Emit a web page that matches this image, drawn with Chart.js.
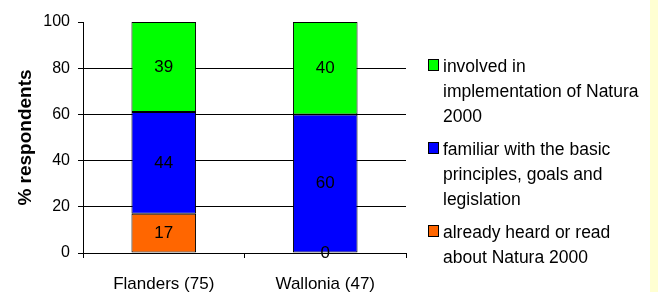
<!DOCTYPE html>
<html>
<head>
<meta charset="utf-8">
<script src="https://cdn.jsdelivr.net/npm/chart.js@4"></script>
<style>
  html, body { margin: 0; padding: 0; background: #fff; }
  #wrap { position: relative; width: 658px; height: 292px; }
  #strip { position: absolute; left: 650px; top: 0; width: 8px; height: 292px; background: #ffffd2; }
</style>
</head>
<body>
<div id="wrap">
  <canvas id="chart" width="658" height="292"></canvas>
  <div id="strip"></div>
</div>
<script>
// Datos del grafico
const categories = ['Flanders (75)', 'Wallonia (47)'];
const heardValues = [17, 0];
const familiarValues = [44, 60];
const involvedValues = [39, 40];
const seriesLabels = [
    ['already heard or read', 'about Natura 2000'],
    ['familiar with the basic', 'principles, goals and', 'legislation'],
    ['involved in', 'implementation of Natura', '2000']
];
const seriesColors = ['#ff6600', '#0000ff', '#00ff00'];
const yTicks = [0, 20, 40, 60, 80, 100];

const FONT = 'Arial, "Liberation Sans", sans-serif';

// Etiquetas de valor dentro de cada segmento
const valueLabels = {
    id: 'valueLabels',
    afterDatasetsDraw(chart) {
        const ctx = chart.ctx;
        ctx.save();
        ctx.font = '17px ' + FONT;
        ctx.fillStyle = '#000';
        ctx.textAlign = 'center';
        ctx.textBaseline = 'middle';
        chart.data.datasets.forEach((ds, i) => {
            chart.getDatasetMeta(i).data.forEach((bar, j) => {
                ctx.fillText(String(ds.data[j]), bar.x, (bar.y + bar.base) / 2);
            });
        });
        ctx.restore();
    }
};

// Leyenda dibujada a mano (texto en varias lineas)
const sideLegend = {
    id: 'sideLegend',
    afterDraw(chart) {
        const ctx = chart.ctx;
        const boxX = chart.chartArea.right + 22;
        const textX = boxX + 15;
        let baseline = chart.chartArea.top + 50;
        ctx.save();
        ctx.font = '17.5px ' + FONT;
        ctx.textBaseline = 'alphabetic';
        ctx.textAlign = 'left';
        for (let i = chart.data.datasets.length - 1; i >= 0; i--) {
            const ds = chart.data.datasets[i];
            ctx.fillStyle = ds.backgroundColor;
            ctx.fillRect(boxX, baseline - 13, 10, 11);
            ctx.strokeStyle = '#000';
            ctx.lineWidth = 1;
            ctx.strokeRect(boxX + 0.5, baseline - 12.5, 10, 11);
            ctx.fillStyle = '#000';
            ds.legendLines.forEach((line, k) => {
                ctx.fillText(line, textX, baseline + k * 25);
            });
            baseline += ds.legendLines.length * 25 + 8;
        }
        ctx.restore();
    }
};

const datasets = [heardValues, familiarValues, involvedValues].map((values, i) => ({
    label: seriesLabels[i].join(' '),
    legendLines: seriesLabels[i],
    data: values,
    backgroundColor: seriesColors[i],
    borderColor: '#000',
    borderWidth: 1,
    borderSkipped: false,
    categoryPercentage: 1,
    barPercentage: 0.4
}));

new Chart(document.getElementById('chart'), {
    type: 'bar',
    data: { labels: categories, datasets: datasets },
    options: {
        responsive: false,
        animation: false,
        layout: { padding: { left: 0, top: 22, right: 252, bottom: 0 } },
        plugins: {
            legend: { display: false },
            tooltip: { enabled: false }
        },
        scales: {
            x: {
                stacked: true,
                grid: { offset: true, drawOnChartArea: false, color: '#000', tickLength: 5 },
                border: { color: '#000', width: 1 },
                ticks: { color: '#000', font: { family: FONT, size: 17 }, padding: 16 },
                afterFit(scale) { scale.height = 39; }
            },
            y: {
                stacked: true,
                min: 0,
                max: 100,
                afterBuildTicks(scale) { scale.ticks = yTicks.map(v => ({ value: v })); },
                grid: {
                    color: c => (c.tick && c.tick.value === 100) ? 'rgba(0,0,0,0)' : '#000',
                    tickColor: '#000',
                    tickLength: 5
                },
                border: { color: '#000', width: 1 },
                ticks: { color: '#000', font: { family: FONT, size: 16 }, padding: 8 },
                title: {
                    display: true,
                    text: '% respondents',
                    color: '#000',
                    font: { family: FONT, size: 19, weight: 'bold' },
                    padding: { top: 14, bottom: 0 }
                },
                afterFit(scale) { scale.width = 83; }
            }
        }
    },
    plugins: [valueLabels, sideLegend]
});
</script>
</body>
</html>
